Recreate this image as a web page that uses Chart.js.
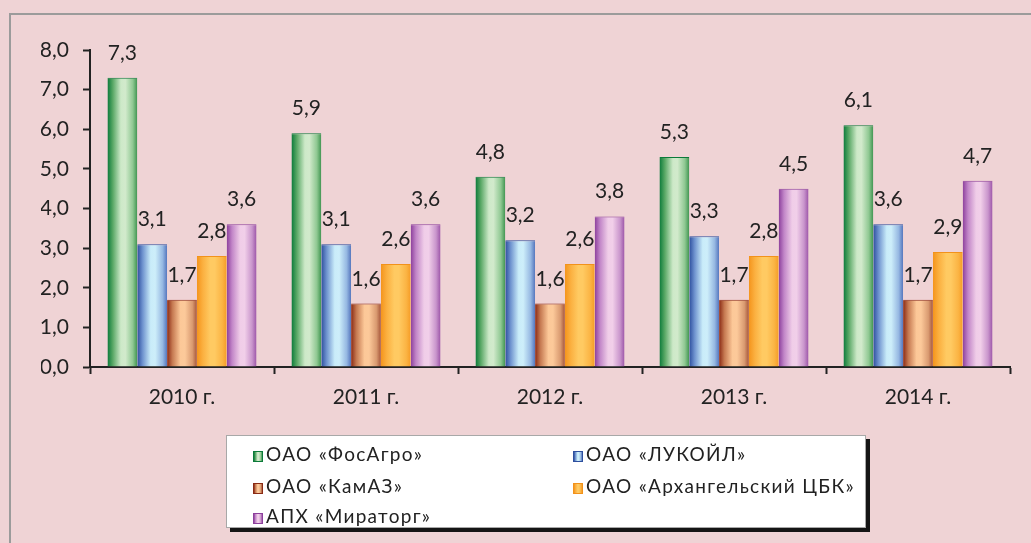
<!DOCTYPE html>
<html>
<head>
<meta charset="utf-8">
<script src="https://cdn.jsdelivr.net/npm/chart.js@4.4.0/dist/chart.umd.min.js"></script>
<style>
  html, body { margin: 0; padding: 0; background: #efd3d5; overflow: hidden; }
  #wrap { position: relative; width: 1031px; height: 543px; }
  #frame { position: absolute; left: 9px; top: 13px; width: 1040px; height: 560px;
    border-left: 2px solid #9b9b9b; border-top: 2px solid #9b9b9b; }
  canvas { position: absolute; left: 0; top: 0; }
  #legend { position: absolute; left: 226px; top: 435px; width: 638px; height: 91px;
    background: #fff; border: 1px solid #a8a8a8; box-shadow: 4px 4px 0 #151515;
    font-family: Lato, sans-serif; font-size: 19px; letter-spacing: 1.3px; color: #222; }
  .item { position: absolute; white-space: nowrap; line-height: 20px; }
  .mark { display: inline-block; width: 8px; height: 9px; margin-right: 3px; vertical-align: -1px; border: 1px solid; }
</style>
</head>
<body>
<div id="wrap">
  <div id="frame"></div>
  <canvas id="chart" width="1031" height="543"></canvas>
  <div id="legend"></div>
</div>
<script>
// Data
const years = ['2010 г.', '2011 г.', '2012 г.', '2013 г.', '2014 г.'];
const companies = ['ОАО «ФосАгро»', 'ОАО «ЛУКОЙЛ»', 'ОАО «КамАЗ»', 'ОАО «Архангельский ЦБК»', 'АПХ «Мираторг»'];
const fosagro  = [7.3, 5.9, 4.8, 5.3, 6.1];
const lukoil   = [3.1, 3.1, 3.2, 3.3, 3.6];
const kamaz    = [1.7, 1.6, 1.6, 1.7, 1.7];
const arkhcbk  = [2.8, 2.6, 2.6, 2.8, 2.9];
const miratorg = [3.6, 3.6, 3.8, 4.5, 4.7];
const series = [fosagro, lukoil, kamaz, arkhcbk, miratorg];

// bar looks: dark edge -> light middle -> medium edge
const edge = ['#0b7a3a', '#2d4f9e', '#8a2a14', '#f2921a', '#8c3f9c'];
const stops = [
  [[0, '#0b7a3a'], [0.18, '#5aa866'], [0.45, '#cde9c8'], [0.6, '#d2eacc'], [0.85, '#8fc892'], [1, '#3f9450']],
  [[0, '#2d4f9e'], [0.18, '#6f93cf'], [0.45, '#c9ecf9'], [0.6, '#cdeefa'], [0.85, '#96b8e2'], [1, '#5576bd']],
  [[0, '#8a2a14'], [0.18, '#c67a52'], [0.45, '#fcc898'], [0.6, '#fcc99a'], [0.85, '#d99a70'], [1, '#a5553a']],
  [[0, '#f4941c'], [0.2, '#fbb040'], [0.45, '#ffca62'], [0.6, '#ffca62'], [0.85, '#fbb444'], [1, '#f59c26']],
  [[0, '#8c3f9c'], [0.18, '#c286c8'], [0.45, '#f0cde8'], [0.6, '#f1cfe9'], [0.85, '#c995cc'], [1, '#9c55a8']]
];

const fmt = v => v.toFixed(1).replace('.', ',');

const barGradient = {
  id: 'barGradient',
  beforeDatasetsDraw(chart) {
    const ctx = chart.ctx;
    chart.data.datasets.forEach((ds, i) => {
      chart.getDatasetMeta(i).data.forEach(el => {
        const g = ctx.createLinearGradient(el.x - el.width / 2, 0, el.x + el.width / 2, 0);
        stops[i].forEach(s => g.addColorStop(s[0], s[1]));
        el.options = Object.assign({}, el.options, { backgroundColor: g });
      });
    });
  }
};

const valueLabels = {
  id: 'valueLabels',
  afterDatasetsDraw(chart) {
    const ctx = chart.ctx;
    ctx.save();
    ctx.font = '21px Lato, sans-serif';
    ctx.fillStyle = '#222';
    ctx.textAlign = 'center';
    ctx.textBaseline = 'alphabetic';
    chart.data.datasets.forEach((ds, i) => {
      chart.getDatasetMeta(i).data.forEach((el, j) => {
        ctx.fillText(fmt(ds.data[j]), el.x, el.y - 18);
      });
    });
    ctx.restore();
  }
};

new Chart(document.getElementById('chart'), {
  type: 'bar',
  data: {
    labels: years,
    datasets: series.map((d, i) => ({
      label: companies[i],
      data: d,
      backgroundColor: edge[i],
      borderColor: edge[i],
      borderWidth: { top: 1, left: 0, right: 0, bottom: 0 },
      categoryPercentage: 0.81,
      barPercentage: 1
    }))
  },
  options: {
    responsive: false,
    animation: false,
    layout: { padding: { left: 41, right: 21, top: 50, bottom: 136 } },
    plugins: { legend: { display: false }, tooltip: { enabled: false } },
    scales: {
      x: {
        afterFit: s => { s.height = 40; },
        grid: { offset: true, drawOnChartArea: false, tickLength: 7, tickColor: '#222', tickWidth: 2 },
        border: { color: '#222', width: 2 },
        ticks: { color: '#222', font: { family: 'Lato', size: 21 }, padding: 11 }
      },
      y: {
        min: 0, max: 8,
        afterFit: s => { s.width = 49; },
        grid: { drawOnChartArea: false, tickLength: 7, tickColor: '#222', tickWidth: 2 },
        border: { color: '#222', width: 2 },
        ticks: { stepSize: 1, color: '#222', font: { family: 'Lato', size: 21 }, padding: 14,
          callback: v => fmt(v) }
      }
    }
  },
  plugins: [barGradient, valueLabels]
});

// legend, two columns
const legend = document.getElementById('legend');
companies.forEach((name, i) => {
  const col = i % 2, row = Math.floor(i / 2);
  const item = document.createElement('div');
  item.className = 'item';
  item.style.left = (col ? 346 : 26) + 'px';
  item.style.top = [8, 40, 70][row] + 'px';
  const mark = document.createElement('span');
  mark.className = 'mark';
  mark.style.borderColor = edge[i];
  mark.style.background = 'linear-gradient(to right,' + stops[i].map(s => s[1] + ' ' + (s[0] * 100) + '%').join(',') + ')';
  item.appendChild(mark);
  item.appendChild(document.createTextNode(name));
  legend.appendChild(item);
});
</script>
</body>
</html>
